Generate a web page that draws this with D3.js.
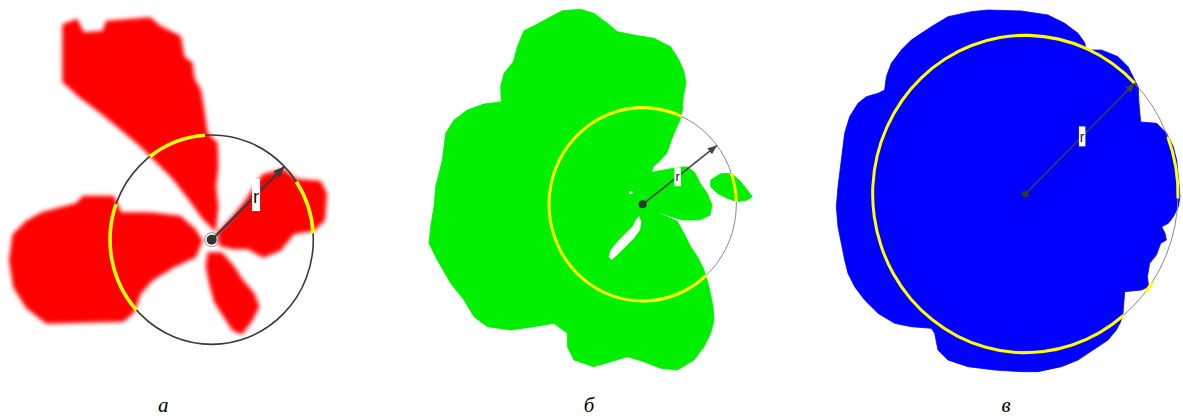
<!DOCTYPE html>
<html>
<head>
<meta charset="utf-8">
<script src="https://cdn.jsdelivr.net/npm/d3@7"></script>
<style>
  body { margin: 0; background: #fff; }
  svg { display: block; }
</style>
</head>
<body>
<div id="fig"></div>
<script>
// panel captions
var panels = ["а", "б", "в"];
var blobColors = ["#ff0000", "#00f000", "#0000ff"];

// outlines, traced on a 3x grid of each panel (panel is 394 x 418 px)
var redUpper = [[190,75],[230,60],[250,100],[310,95],[320,65],[450,55],[480,80],[540,110],[550,170],[575,190],[580,235],[600,270],[610,330],[620,400],[650,430],[652,500],[645,560],[652,620],[645,690],[610,655],[570,600],[520,535],[460,475],[420,435],[360,385],[300,335],[240,290],[190,245]];
var redRight = [[655,700],[700,650],[740,600],[765,560],[790,525],[850,510],[890,540],[960,545],[978,580],[972,660],[940,690],[880,700],[840,750],[790,770],[745,745],[700,745],[660,735]];
var redLower = [[625,760],[665,760],[700,800],[725,840],[760,880],[775,920],[755,960],[725,1000],[700,990],[680,960],[645,905],[630,850],[620,800]];
var redLeft = [[40,705],[80,665],[125,640],[230,612],[250,590],[340,590],[362,640],[450,640],[540,650],[585,690],[605,722],[585,770],[520,800],[455,840],[420,880],[400,935],[370,962],[140,968],[80,922],[42,860],[30,780]];

var greenBody = [[505,32],[560,28],[600,40],[640,70],[670,95],[720,105],[780,115],[830,140],[855,180],[870,215],[876,250],[868,290],[865,330],[858,360],[840,400],[818,460],[795,485],[778,500],[773,515],[790,525],[800,600],[792,636],[800,641],[850,664],[870,700],[890,740],[910,770],[928,805],[938,835],[948,875],[957,920],[960,960],[950,1000],[930,1040],[900,1080],[850,1110],[800,1105],[750,1085],[700,1070],[650,1085],[600,1100],[540,1080],[520,1040],[520,1000],[480,970],[420,980],[350,990],[280,980],[240,950],[210,900],[170,850],[130,780],[105,730],[110,680],[120,620],[125,560],[145,480],[155,400],[180,360],[220,330],[270,312],[322,305],[320,260],[330,220],[358,185],[370,140],[390,92],[430,72],[480,45]];
var greenLobe = [[777,516],[858,501],[882,501],[903,519],[918,549],[939,579],[954,615],[948,645],[918,660],[867,660],[834,651],[792,636]];
var greenIsland = [[950,540],[980,521],[1012,520],[1040,545],[1060,570],[1075,590],[1060,600],[1030,605],[1000,595],[970,580],[950,560]];
var greenHoles = [
  [[735,648],[742,665],[738,690],[720,715],[695,740],[670,765],[652,780],[644,770],[650,750],[670,725],[695,700],[715,680],[725,660]],
  [[706,574],[715,574],[715,582],[706,582]]
];

var blueBody = [[430,80],[480,50],[550,35],[600,30],[700,33],[780,45],[830,70],[870,100],[890,128],[895,150],[940,150],[990,170],[1020,200],[1040,240],[1051,262],[1052,300],[1058,366],[1106,370],[1136,400],[1156,440],[1166,480],[1171,530],[1176,590],[1171,620],[1156,650],[1141,670],[1121,680],[1131,700],[1135,720],[1118,730],[1105,765],[1085,790],[1078,830],[1082,860],[1060,870],[1010,875],[1005,940],[998,965],[985,990],[960,1020],[930,1040],[900,1060],[870,1080],[820,1100],[750,1115],[700,1115],[620,1110],[540,1100],[480,1080],[450,1050],[440,1000],[430,985],[370,980],[320,970],[270,940],[230,900],[200,860],[180,820],[170,780],[160,730],[150,680],[145,620],[150,560],[160,480],[170,400],[185,350],[210,310],[235,290],[270,280],[290,270],[295,230],[310,190],[340,150],[370,120],[400,100]];

var blobs = [
  { fill: [redUpper, redRight, redLower, redLeft], holes: [] },
  { fill: [greenBody, greenLobe, greenIsland], holes: greenHoles },
  { fill: [blueBody], holes: [] }
];

// circle of radius r for each panel: centre and radii (x, y) in grid units
var circleCentre = [[635,719],[746,613],[712,582]];
var circleRadius = [[305,314],[281,290],[458,476]];
// yellow parts of the circle, degrees clockwise from 12 o'clock
var yellowArcs = [
  [[-37.4,-3.8],[-132.3,-70.2],[56.4,86.6]],
  [[137.4,384.5],[71.2,88.4]],
  [[140,405.8],[68.9,91.6],[123.5,128.3]]
];
var arrowAngle = [44.3, 37.5, 44.3];   // degrees, counter-clockwise from 3 o'clock
var labelAlong = [0.61, 0.47, 0.52];   // where the "r" sits along the arrow
var captionX = [490, 585, 654];

var width = 1183, height = 418;
var svg = d3.select("#fig").append("svg")
    .attr("width", width)
    .attr("height", height);

var defs = svg.append("defs");
defs.append("filter").attr("id", "soft")
    .attr("x", "-5%").attr("y", "-5%").attr("width", "110%").attr("height", "110%")
    .append("feGaussianBlur").attr("stdDeviation", 2.2);

var looks = [
  { circle: "#3a3a3a", cw: 1.6, yw: 3.6, arrow: "#3a3a3a", aw: 2.2, head: 12, dot: 5, box: [8, 32], font: 19, base: 8 },
  { circle: "#8a8a8a", cw: 1, yw: 3, arrow: "#444", aw: 1.6, head: 10, dot: 4, box: [6.5, 19], font: 13, base: 4 },
  { circle: "#8a8a8a", cw: 1, yw: 3, arrow: "#444", aw: 1.3, head: 10, dot: 3.6, box: [6.5, 20], font: 14, base: 6 }
];

looks.forEach(function(lk, i) {
  defs.append("marker")
      .attr("id", "head" + i)
      .attr("viewBox", "0 -4 10 8")
      .attr("refX", 10).attr("refY", 0)
      .attr("markerUnits", "userSpaceOnUse")
      .attr("markerWidth", lk.head).attr("markerHeight", lk.head * 0.75)
      .attr("orient", "auto")
      .append("path").attr("d", "M0,-4L10,0L0,4Z").attr("fill", lk.arrow);
});

var band = d3.scaleBand().domain(panels).range([0, 1182]);
var colour = d3.scaleOrdinal().domain(panels).range(blobColors);
var y = d3.scaleLinear().domain([0, 1254]).range([0, 418]);

panels.forEach(function(p, i) {
  var x = d3.scaleLinear().domain([0, 1182]).range([band(p), band(p) + band.bandwidth()]);
  var line = d3.line().x(function(d) { return x(d[0]); }).y(function(d) { return y(d[1]); }).curve(d3.curveLinearClosed);
  var lk = looks[i];
  var g = svg.append("g");

  var shape = g.append("g");
  if (i === 0) shape.attr("filter", "url(#soft)");
  shape.selectAll("path.blob").data(blobs[i].fill).join("path")
      .attr("class", "blob")
      .attr("d", line)
      .attr("fill", colour(p))
      .attr("stroke", colour(p))
      .attr("stroke-width", i === 0 ? 2 : 0.8)
      .attr("stroke-linejoin", "round");
  shape.selectAll("path.hole").data(blobs[i].holes).join("path")
      .attr("class", "hole")
      .attr("d", line)
      .attr("fill", "#fff");

  var c = circleCentre[i], r = circleRadius[i];
  var cx = x(c[0]), cy = y(c[1]);
  var rx = x(c[0] + r[0]) - cx, ry = y(c[1] + r[1]) - cy;

  g.append("ellipse")
      .attr("cx", cx).attr("cy", cy)
      .attr("rx", rx).attr("ry", ry)
      .attr("fill", "none")
      .attr("stroke", lk.circle)
      .attr("stroke-width", lk.cw);

  var arc = d3.arc().innerRadius(rx - lk.yw / 2).outerRadius(rx + lk.yw / 2);
  g.append("g")
      .attr("transform", "translate(" + cx + "," + cy + ") scale(1," + (ry / rx) + ")")
      .selectAll("path").data(yellowArcs[i]).join("path")
      .attr("d", function(d) {
        return arc({ startAngle: d[0] * Math.PI / 180, endAngle: d[1] * Math.PI / 180 });
      })
      .attr("fill", "#ffff00");

  // radius arrow
  var t = arrowAngle[i] * Math.PI / 180;
  var ex = x(c[0] + r[0] * Math.cos(t)), ey = y(c[1] - r[1] * Math.sin(t));
  g.append("line")
      .attr("x1", cx).attr("y1", cy)
      .attr("x2", ex).attr("y2", ey)
      .attr("stroke", lk.arrow)
      .attr("stroke-width", lk.aw)
      .attr("marker-end", "url(#head" + i + ")");

  if (i === 0) {
    g.append("circle").attr("cx", cx).attr("cy", cy).attr("r", lk.dot + 2)
        .attr("fill", "none").attr("stroke", "#555").attr("stroke-width", 1).attr("opacity", 0.6);
  }
  g.append("circle").attr("cx", cx).attr("cy", cy).attr("r", lk.dot).attr("fill", "#333");

  // "r" label
  var lx = cx + (ex - cx) * labelAlong[i], ly = cy + (ey - cy) * labelAlong[i];
  g.append("rect")
      .attr("x", lx - lk.box[0] / 2).attr("y", ly - lk.box[1] / 2)
      .attr("width", lk.box[0]).attr("height", lk.box[1])
      .attr("fill", "#fff");
  g.append("text")
      .attr("x", lx).attr("y", ly + lk.base)
      .attr("text-anchor", "middle")
      .attr("font-family", "Liberation Sans, Arial, sans-serif")
      .attr("font-size", lk.font)
      .attr("fill", "#111")
      .text("r");

  // caption
  g.append("text")
      .attr("x", x(captionX[i])).attr("y", 412)
      .attr("text-anchor", "middle")
      .attr("font-family", "Liberation Serif, Times New Roman, serif")
      .attr("font-style", "italic")
      .attr("font-size", 21)
      .attr("fill", "#000")
      .text(p);
});
</script>
</body>
</html>
